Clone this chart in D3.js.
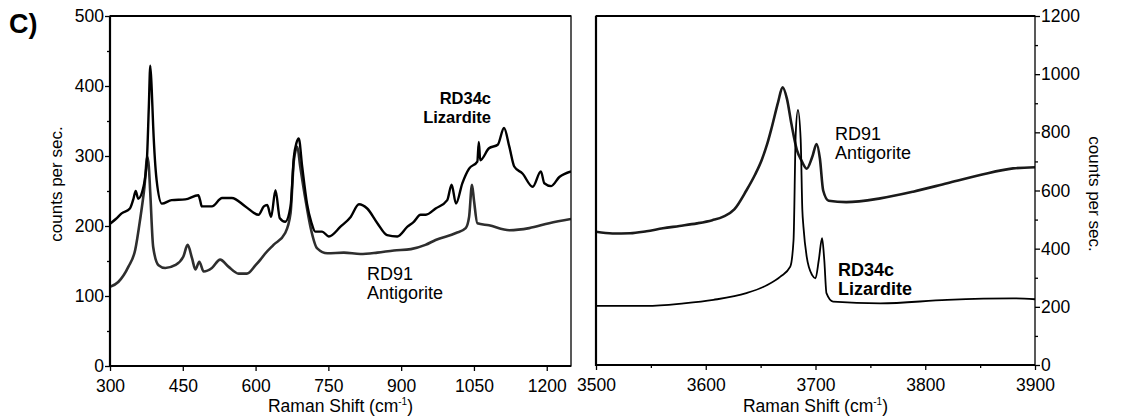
<!DOCTYPE html>
<html>
<head>
<meta charset="utf-8">
<script src="https://cdn.jsdelivr.net/npm/d3@7"></script>
<style>
  body { margin: 0; background: #fff; }
  svg { font-family: "Liberation Sans", Arial, sans-serif; }
  .axis path, .axis line { stroke: #000; }
  .axis text { font-size: 17.5px; fill: #000; }
</style>
</head>
<body>
<svg id="chart" width="1145" height="418"></svg>
<script>
// spectra: [raman shift, counts per sec]
const lizarditeLow = [
  [300,203],[312,210],[324,218],[341,225],[348,238],[353,250],[358,239],[369,256],[376,294],[380,370],
  [383,429],[386,395],[389,342],[396,266],[407,232],[427,237],[455,238],[482,244],[486,236],[489,228],
  [510,228],[531,240],[551,240],[579,228],[606,216],[617,228],[624,230],[632,213],[641,251],[650,211],
  [661,206],[672,228],[679,299],[684,318],[689,325],[696,285],[706,232],[715,205],[723,192],[737,192],
  [751,185],[775,199],[796,213],[813,231],[830,225],[851,204],[871,187],[892,185],[913,199],[926,206],
  [940,216],[951,216],[971,225],[995,237],[1004,259],[1013,232],[1026,261],[1040,282],[1057,292],[1060,320],
  [1063,294],[1081,311],[1099,316],[1112,340],[1123,313],[1133,285],[1150,275],[1171,256],[1188,278],[1195,261],
  [1209,257],[1226,270],[1250,278]
];
const antigoriteLow = [
  [300,113],[317,120],[338,142],[352,166],[362,209],[371,256],[377,299],[380,285],[383,247],[389,170],
  [400,144],[414,140],[434,144],[451,156],[460,173],[469,154],[476,138],[484,149],[493,135],[510,140],
  [527,152],[544,142],[565,132],[582,132],[600,144],[610,152],[619,160],[637,173],[661,190],[672,218],
  [679,294],[686,313],[692,285],[703,237],[713,199],[727,168],[748,161],[782,162],[816,160],[851,162],
  [885,165],[920,167],[950,173],[971,180],[1013,190],[1033,197],[1040,213],[1046,259],[1050,237],[1057,204],
  [1081,201],[1123,194],[1164,197],[1205,204],[1250,210]
];
const antigoriteHigh = [
  [3500,458],[3515,452],[3531,453],[3546,460],[3561,470],[3576,478],[3592,487],[3606,498],[3616,510],[3626,535],
  [3637,600],[3645,655],[3651,705],[3656,760],[3660,815],[3666,905],[3670,955],[3674,915],[3678,830],[3683,740],
  [3687,705],[3692,675],[3697,715],[3701,760],[3704,710],[3707,600],[3712,565],[3728,560],[3759,573],[3789,596],
  [3820,625],[3850,653],[3880,676],[3900,680]
];
const lizarditeHigh = [
  [3500,203],[3546,203],[3580,212],[3607,224],[3637,247],[3656,275],[3668,304],[3677,338],[3680,430],[3682,797],
  [3684,877],[3686.5,774],[3688,534],[3689,476],[3692,372],[3697,309],[3700,298],[3703,361],[3706,436],[3708,361],
  [3710,247],[3716,218],[3759,212],[3820,224],[3880,229],[3900,226]
];

const lowTicks = [300, 450, 600, 750, 900, 1050, 1200];
const lowCountTicks = [0, 100, 200, 300, 400, 500];
const highTicks = [3500, 3600, 3700, 3800, 3900];
const highCountTicks = [0, 200, 400, 600, 800, 1000, 1200];

const svg = d3.select("#chart");

// panel boxes
const L = { left: 110, right: 571, top: 16, bottom: 366 };
const R = { left: 596, right: 1035, top: 16, bottom: 365 };

const xL = d3.scaleLinear().domain([300, 1250]).range([L.left, L.right]);
const yL = d3.scaleLinear().domain([0, 500]).range([L.bottom, L.top]);
const xR = d3.scaleLinear().domain([3500, 3900]).range([R.left, R.right]);
const yR = d3.scaleLinear().domain([0, 1200]).range([R.bottom, R.top]);

const plain = d => String(d);

function styleAxis(g) {
  g.attr("class", "axis");
  g.select(".domain").remove();
  g.selectAll("line").attr("stroke-width", 1.3);
}

// ---- left panel ----
svg.append("g")
  .attr("transform", `translate(0,${L.bottom})`)
  .call(d3.axisBottom(xL).tickValues(lowTicks).tickFormat(plain).tickSize(5).tickPadding(9))
  .call(styleAxis);
svg.append("g")
  .attr("transform", `translate(${L.left},0)`)
  .call(d3.axisLeft(yL).tickValues(lowCountTicks).tickFormat(plain).tickSize(5).tickPadding(1))
  .call(styleAxis);
svg.append("g")
  .attr("transform", `translate(${L.left},0)`)
  .call(d3.axisLeft(yL).tickValues(d3.range(50, 500, 100)).tickSize(3).tickFormat(""))
  .call(styleAxis);

// ---- right panel ----
svg.append("g")
  .attr("transform", `translate(0,${R.bottom})`)
  .call(d3.axisBottom(xR).tickValues(highTicks).tickFormat(plain).tickSize(5).tickPadding(9))
  .call(styleAxis);
svg.append("g")
  .attr("transform", `translate(0,${R.bottom})`)
  .call(d3.axisBottom(xR).tickValues(d3.range(3550, 3900, 100)).tickSize(3).tickFormat(""))
  .call(styleAxis);
svg.append("g")
  .attr("transform", `translate(${R.right},0)`)
  .call(d3.axisRight(yR).tickValues(highCountTicks).tickFormat(plain).tickSize(5).tickPadding(1))
  .call(styleAxis);
svg.append("g")
  .attr("transform", `translate(${R.right},0)`)
  .call(d3.axisRight(yR).tickValues(d3.range(100, 1200, 200)).tickSize(3).tickFormat(""))
  .call(styleAxis);

// clip paths
const defs = svg.append("defs");
defs.append("clipPath").attr("id", "clipL").append("rect")
  .attr("x", L.left).attr("y", L.top).attr("width", L.right - L.left).attr("height", L.bottom - L.top);
defs.append("clipPath").attr("id", "clipR").append("rect")
  .attr("x", R.left).attr("y", R.top).attr("width", R.right - R.left).attr("height", R.bottom - R.top);

const lineL = d3.line().x(d => xL(d[0])).y(d => yL(d[1])).curve(d3.curveMonotoneX);
const lineR = d3.line().x(d => xR(d[0])).y(d => yR(d[1])).curve(d3.curveMonotoneX);

const gL = svg.append("g").attr("clip-path", "url(#clipL)");
gL.append("path").datum(antigoriteLow).attr("d", lineL)
  .attr("fill", "none").attr("stroke", "#2e2e2e").attr("stroke-width", 2.6).attr("stroke-linejoin", "round");
gL.append("path").datum(lizarditeLow).attr("d", lineL)
  .attr("fill", "none").attr("stroke", "#000").attr("stroke-width", 2.4).attr("stroke-linejoin", "round");

const gR = svg.append("g").attr("clip-path", "url(#clipR)");
gR.append("path").datum(antigoriteHigh).attr("d", lineR)
  .attr("fill", "none").attr("stroke", "#1a1a1a").attr("stroke-width", 2.6).attr("stroke-linejoin", "round");
gR.append("path").datum(lizarditeHigh).attr("d", lineR)
  .attr("fill", "none").attr("stroke", "#000").attr("stroke-width", 1.8).attr("stroke-linejoin", "round");

// frames
[L, R].forEach(p => {
  svg.append("rect")
    .attr("x", p.left).attr("y", p.top)
    .attr("width", p.right - p.left).attr("height", p.bottom - p.top)
    .attr("fill", "none").attr("stroke", "#000").attr("stroke-width", 1.3);
});
// thicker left/bottom/top edges as in the scan
svg.append("path")
  .attr("d", `M${L.left},${L.top}V${L.bottom}H${L.right} M${L.left},${L.top}H${L.right}`)
  .attr("fill", "none").attr("stroke", "#000").attr("stroke-width", 2.2);
svg.append("path")
  .attr("d", `M${R.left},${R.top}V${R.bottom}H${R.right} M${R.left},${R.top}H${R.right}`)
  .attr("fill", "none").attr("stroke", "#000").attr("stroke-width", 2.2);

// axis titles
function ramanTitle(cx) {
  const t = svg.append("text")
    .attr("x", cx).attr("y", 412)
    .attr("text-anchor", "middle")
    .style("font-size", "17.5px");
  t.append("tspan").text("Raman Shift (cm");
  t.append("tspan").text("-1").attr("dy", -7).style("font-size", "10px");
  t.append("tspan").text(")").attr("dy", 7);
}
ramanTitle((L.left + L.right) / 2);
ramanTitle((R.left + R.right) / 2);

svg.append("text")
  .attr("transform", "translate(62,184) rotate(-90)")
  .attr("text-anchor", "middle")
  .style("font-size", "17px")
  .text("counts per sec.");
svg.append("text")
  .attr("transform", "translate(1089,194) rotate(90)")
  .attr("text-anchor", "middle")
  .style("font-size", "17px")
  .text("counts per sec.");

svg.append("text")
  .attr("x", 9).attr("y", 33)
  .style("font-size", "27px").style("font-weight", "bold")
  .text("C)");

// curve labels
function label(x, y, lines, bold, anchor, size) {
  const t = svg.append("text")
    .attr("x", x).attr("y", y)
    .attr("text-anchor", anchor)
    .style("font-size", size + "px")
    .style("font-weight", bold ? "bold" : "normal");
  lines.forEach((s, i) => t.append("tspan").attr("x", x).attr("dy", i ? 19 : 0).text(s));
}
label(491, 104, ["RD34c", "Lizardite"], true, "end", 16.5);
label(367, 280, ["RD91", "Antigorite"], false, "start", 18);
label(835, 140, ["RD91", "Antigorite"], false, "start", 18);
label(838, 276, ["RD34c", "Lizardite"], true, "start", 18);
</script>
</body>
</html>
